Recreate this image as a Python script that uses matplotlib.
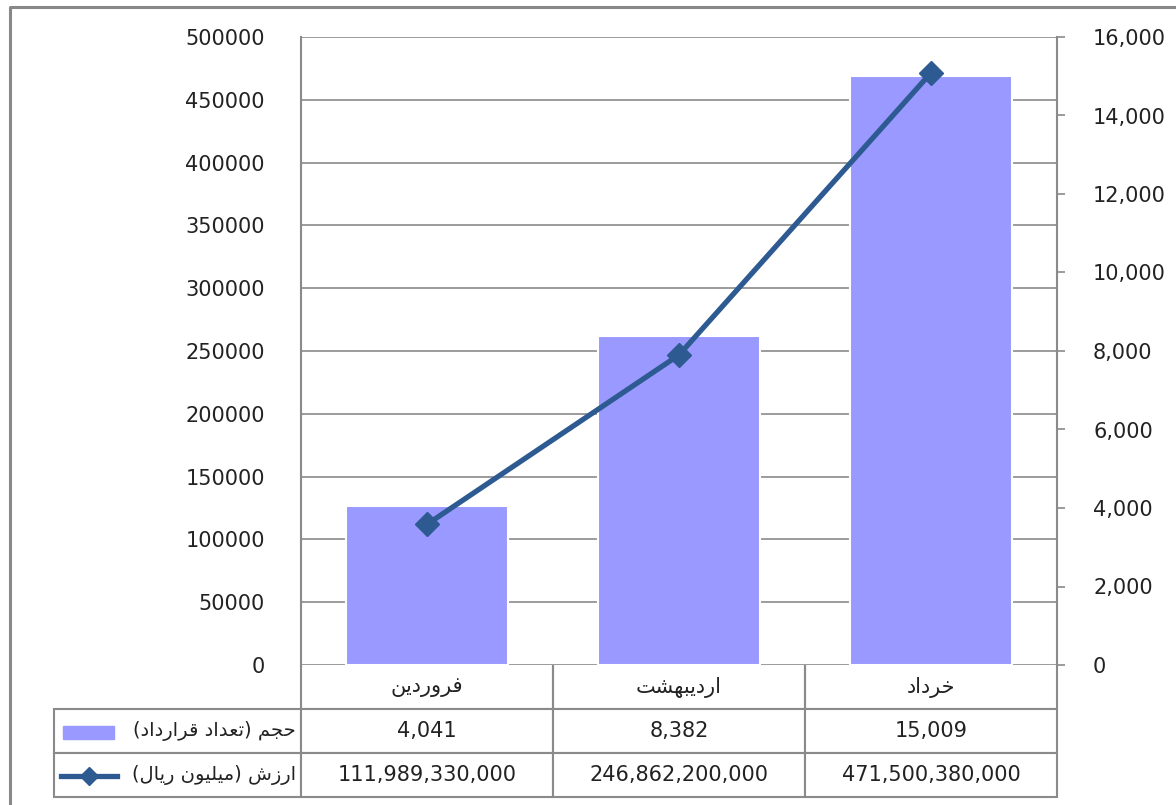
import matplotlib

matplotlib.use("Agg")
import matplotlib.pyplot as plt
from matplotlib.lines import Line2D
from matplotlib.patches import Rectangle
from matplotlib.ticker import FuncFormatter, MultipleLocator

months = ["فروردین", "اردیبهشت", "خرداد"]
volume = [4041, 8382, 15009]  # contracts (right axis)
value_rial = [111989330000, 246862200000, 471500380000]
value_label = "ارزش (میلیون ریال)"
volume_label = "حجم (تعداد قرارداد)"

BAR_COLOR = "#9999FF"
LINE_COLOR = "#2E5A92"
GRID = "#8A8A8A"

# minimal Persian shaping: (isolated, final, initial, medial)
FORMS = {
    "ا": ("\uFE8D", "\uFE8E", None, None),
    "ب": ("\uFE8F", "\uFE90", "\uFE91", "\uFE92"),
    "ت": ("\uFE95", "\uFE96", "\uFE97", "\uFE98"),
    "ج": ("\uFE9D", "\uFE9E", "\uFE9F", "\uFEA0"),
    "ح": ("\uFEA1", "\uFEA2", "\uFEA3", "\uFEA4"),
    "خ": ("\uFEA5", "\uFEA6", "\uFEA7", "\uFEA8"),
    "د": ("\uFEA9", "\uFEAA", None, None),
    "ر": ("\uFEAD", "\uFEAE", None, None),
    "ز": ("\uFEAF", "\uFEB0", None, None),
    "ش": ("\uFEB5", "\uFEB6", "\uFEB7", "\uFEB8"),
    "ع": ("\uFEC9", "\uFECA", "\uFECB", "\uFECC"),
    "ف": ("\uFED1", "\uFED2", "\uFED3", "\uFED4"),
    "ق": ("\uFED5", "\uFED6", "\uFED7", "\uFED8"),
    "ل": ("\uFEDD", "\uFEDE", "\uFEDF", "\uFEE0"),
    "م": ("\uFEE1", "\uFEE2", "\uFEE3", "\uFEE4"),
    "ن": ("\uFEE5", "\uFEE6", "\uFEE7", "\uFEE8"),
    "ه": ("\uFEE9", "\uFEEA", "\uFEEB", "\uFEEC"),
    "و": ("\uFEED", "\uFEEE", None, None),
    "ی": ("\uFEEF", "\uFEF0", "\uFEF3", "\uFEF4"),
}


def shape(text):
    out = []
    n = len(text)
    for i, ch in enumerate(text):
        if ch not in FORMS:
            out.append(ch)
            continue
        iso, fin, ini, med = FORMS[ch]
        prev = text[i - 1] if i > 0 else ""
        nxt = text[i + 1] if i < n - 1 else ""
        join_prev = prev in FORMS and FORMS[prev][2] is not None
        join_next = nxt in FORMS and ini is not None
        if join_prev and join_next:
            out.append(med)
        elif join_prev:
            out.append(fin)
        elif join_next:
            out.append(ini)
        else:
            out.append(iso)
    vis = "".join(reversed(out))
    return vis.translate(str.maketrans("()", ")("))


plt.rcParams["font.family"] = ["DejaVu Sans"]

fig = plt.figure(figsize=(11.76, 8.05), dpi=100)
ax = fig.add_axes([301 / 1176, 140 / 805, 756 / 1176, 628 / 805])
ax2 = ax.twinx()

x = range(len(months))
ax2.bar(x, volume, width=0.64, color=BAR_COLOR, edgecolor="white", linewidth=1.5, zorder=2)
ax.plot(x, [v / 1e6 for v in value_rial], color=LINE_COLOR, lw=3.8, marker="D",
        markersize=12, zorder=5)

# line on top of the bars
ax.set_zorder(ax2.get_zorder() + 1)
ax.patch.set_visible(False)

ax.set_xlim(-0.5, len(months) - 0.5)
ax.set_ylim(0, 500000)
ax2.set_ylim(0, 16000)
ax.yaxis.set_major_locator(MultipleLocator(50000))
ax2.yaxis.set_major_locator(MultipleLocator(2000))
ax2.yaxis.set_major_formatter(FuncFormatter(lambda v, p: f"{v:,.0f}"))

ax2.yaxis.grid(False)
for t in ax.get_yticks():
    ax2.axhline(t * 16000 / 500000, color=GRID, lw=1.2, zorder=0)

for a in (ax, ax2):
    for s in a.spines.values():
        s.set_visible(False)
for side in ("left", "right"):
    ax2.spines[side].set_visible(True)
    ax2.spines[side].set_color(GRID)
    ax2.spines[side].set_linewidth(1.5)

ax.set_xticks([])
ax2.set_xticks([])
ax.tick_params(axis="y", length=0, pad=26, labelsize=15, labelcolor="#222222")
ax2.tick_params(axis="y", length=6, width=1.2, color=GRID, pad=20, labelsize=15,
                labelcolor="#222222")

# data table
cells = [
    [""] + [shape(m) for m in months],
    [shape(volume_label)] + [f"{v:,}" for v in volume],
    [shape(value_label)] + [f"{v:,}" for v in value_rial],
]
left = (54 - 301) / 756
tab = ax.table(cellText=cells, cellLoc="center", colWidths=[247, 252, 252, 252],
               bbox=[left, -132 / 628, 1 - left, 132 / 628])
tab.auto_set_font_size(False)
tab.set_fontsize(15)
for (r, c), cell in tab.get_celld().items():
    cell.set_edgecolor(GRID)
    cell.set_linewidth(1.5)
    cell.get_text().set_color("#222222")
    if r == 0:
        cell.visible_edges = "BLR" if c > 0 else ""
    if c == 0 and r > 0:
        cell.get_text().set_ha("right")
        cell.get_text().set_fontsize(14)
        cell._loc = "right"
        cell.PAD = 0.02

# legend keys inside the label column
fig.add_artist(Rectangle((63 / 1176, 1 - 739 / 805), 51 / 1176, 13 / 805,
                         transform=fig.transFigure, color=BAR_COLOR, zorder=10))
fig.add_artist(Line2D([61 / 1176, 117 / 1176], [1 - 776 / 805] * 2, transform=fig.transFigure,
                      color=LINE_COLOR, lw=3.8, zorder=10))
fig.add_artist(Line2D([89 / 1176], [1 - 776 / 805], transform=fig.transFigure,
                      color=LINE_COLOR, marker="D", markersize=9, zorder=10))

# chart area border (left and top edges visible)
fig.add_artist(Line2D([9.5 / 1176, 9.5 / 1176, 1.01], [-0.01, 1 - 7 / 805, 1 - 7 / 805],
                      transform=fig.transFigure, color="#888888", lw=2.2))

fig.savefig("out.png", dpi=100)
